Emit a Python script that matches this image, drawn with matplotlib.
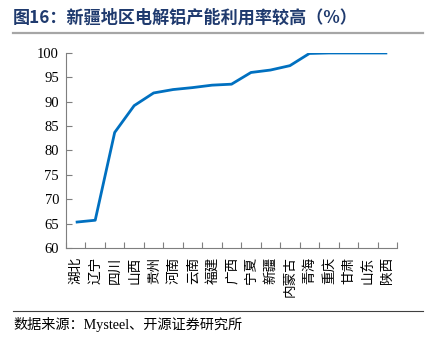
import numpy as np
import matplotlib
matplotlib.use("Agg")
import matplotlib.pyplot as plt
from matplotlib.lines import Line2D

plt.rcParams['font.family'] = ['Liberation Serif', 'Noto Sans CJK SC']

# 各省电解铝产能利用率（%）
provinces = ['湖北', '辽宁', '四川', '山西', '贵州', '河南', '云南', '福建', '广西',
             '宁夏', '新疆', '内蒙古', '青海', '重庆', '甘肃', '山东', '陕西']
utilization = [65.3, 65.7, 83.7, 89.2, 91.8, 92.5, 92.9, 93.4, 93.6,
               96.0, 96.5, 97.4, 99.9, 100.0, 100.0, 100.0, 100.0]
y_ticks = [60, 65, 70, 75, 80, 85, 90, 95, 100]

fig = plt.figure(figsize=(4.28, 3.44), dpi=100)
ax = fig.add_axes([0.1542, 0.279, 0.7734, 0.567])

x = np.arange(len(provinces))
ax.plot(x, utilization, color='#0070C0', linewidth=2.0, solid_capstyle='butt')

ax.set_xlim(-0.5, len(provinces) - 0.5)
ax.set_ylim(60, 100)
ax.set_yticks(y_ticks)
ax.set_yticklabels([str(v) for v in y_ticks], fontsize=10.5)

# 刻度线落在类别之间，标签放在类别中心
ax.set_xticks(np.arange(-0.5, len(provinces)))
ax.set_xticklabels([])
ax.set_xticks(x, minor=True)
ax.set_xticklabels(provinces, minor=True, rotation=90, fontsize=9.8,
                   family=['Noto Sans CJK SC'])
ax.tick_params(axis='x', which='minor', length=0, pad=6)
ax.tick_params(axis='y', which='major', pad=5)
ax.tick_params(axis='both', which='major', direction='in', length=4,
               color='#7F7F7F', width=0.8)

for side in ['top', 'right']:
    ax.spines[side].set_visible(False)
for side in ['left', 'bottom']:
    ax.spines[side].set_color('#7F7F7F')
    ax.spines[side].set_linewidth(0.8)

fig.text(13 / 428, 1 - 18 / 344, '图16：新疆地区电解铝产能利用率较高（%）',
         fontsize=12.3, fontweight='bold', color='#1F3A6E', va='center', ha='left',
         family=['Noto Sans CJK SC', 'DejaVu Sans'])
fig.add_artist(Line2D([13 / 428, 423 / 428], [1 - 33 / 344, 1 - 33 / 344],
                      color='#A6A6A6', linewidth=1.6, transform=fig.transFigure))

fig.add_artist(Line2D([13 / 428, 423 / 428], [1 - 311 / 344, 1 - 311 / 344],
                      color='#404040', linewidth=0.8, transform=fig.transFigure))
fig.text(13 / 428, 1 - 325 / 344, '数据来源：Mysteel、开源证券研究所',
         fontsize=10.2, color='black', va='center', ha='left')

fig.savefig('out.png', dpi=100)
